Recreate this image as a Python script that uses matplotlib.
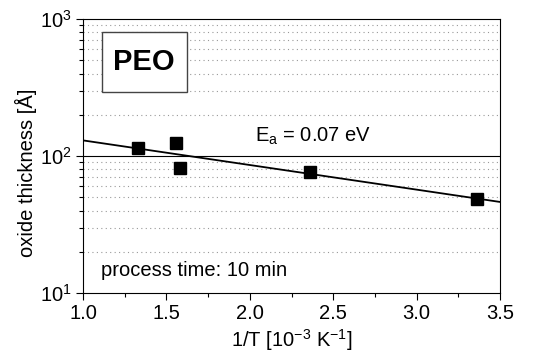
import matplotlib
matplotlib.use('Agg')
import matplotlib.pyplot as plt
from matplotlib.patches import Rectangle
from matplotlib.ticker import LogLocator, NullFormatter, MultipleLocator

# data
inv_T = [1.33, 1.556, 1.582, 2.363, 3.36]
thickness = [115, 124, 82, 76, 48.5]
fit_x = [1.0, 3.5]
fit_y = [130, 46.2]

plt.rcParams['font.family'] = ['Liberation Sans', 'DejaVu Sans']
plt.rcParams['font.size'] = 14.5
plt.rcParams['mathtext.fontset'] = 'custom'
plt.rcParams['mathtext.rm'] = 'Liberation Sans'

fig = plt.figure(figsize=(5.33, 3.54), dpi=100)
ax = fig.add_axes([83 / 533, 1 - 293 / 354, 417 / 533, 274 / 354])

ax.set_yscale('log')
ax.set_xlim(1.0, 3.5)
ax.set_ylim(10, 1000)

# dotted minor grid, solid line at 100
for dec in [10, 100]:
    for m in range(2, 10):
        ax.axhline(dec * m, color='#999999', lw=0.8, ls=(0, (1, 3)), zorder=0)
ax.axhline(100, color='black', lw=0.8, zorder=1)

ax.plot(fit_x, fit_y, color='black', lw=1.3, zorder=2)
ax.plot(inv_T, thickness, 's', color='black', ms=8, zorder=3)

ax.xaxis.set_major_locator(MultipleLocator(0.5))
ax.xaxis.set_minor_locator(MultipleLocator(0.25))
ax.yaxis.set_major_locator(LogLocator(base=10))
ax.yaxis.set_minor_locator(LogLocator(base=10, subs=range(2, 10)))
ax.yaxis.set_minor_formatter(NullFormatter())
ax.tick_params(which='major', direction='out', length=5, width=0.8, pad=3)
ax.tick_params(which='minor', direction='out', length=3, width=0.8)

ax.set_xlabel('1/T [10$^{-3}$ K$^{-1}$]', labelpad=3)
ax.set_ylabel('oxide thickness [Å]')
ax.yaxis.set_label_coords(-0.11, 0.44)

ax.add_patch(Rectangle((0.0456, 0.734), 0.204, 0.219, transform=ax.transAxes,
                       fc='white', ec='#444444', lw=1.0, zorder=4))
ax.text(0.147, 0.843, 'PEO', transform=ax.transAxes, fontsize=21,
        fontweight='bold', va='center', ha='center', zorder=5)
ax.text(2.03, 127, '$\\mathregular{E_a}$ = 0.07 eV', fontsize=14.5)
ax.text(1.11, 13.4, 'process time: 10 min', fontsize=14.5)

fig.savefig('out.png', dpi=100)
